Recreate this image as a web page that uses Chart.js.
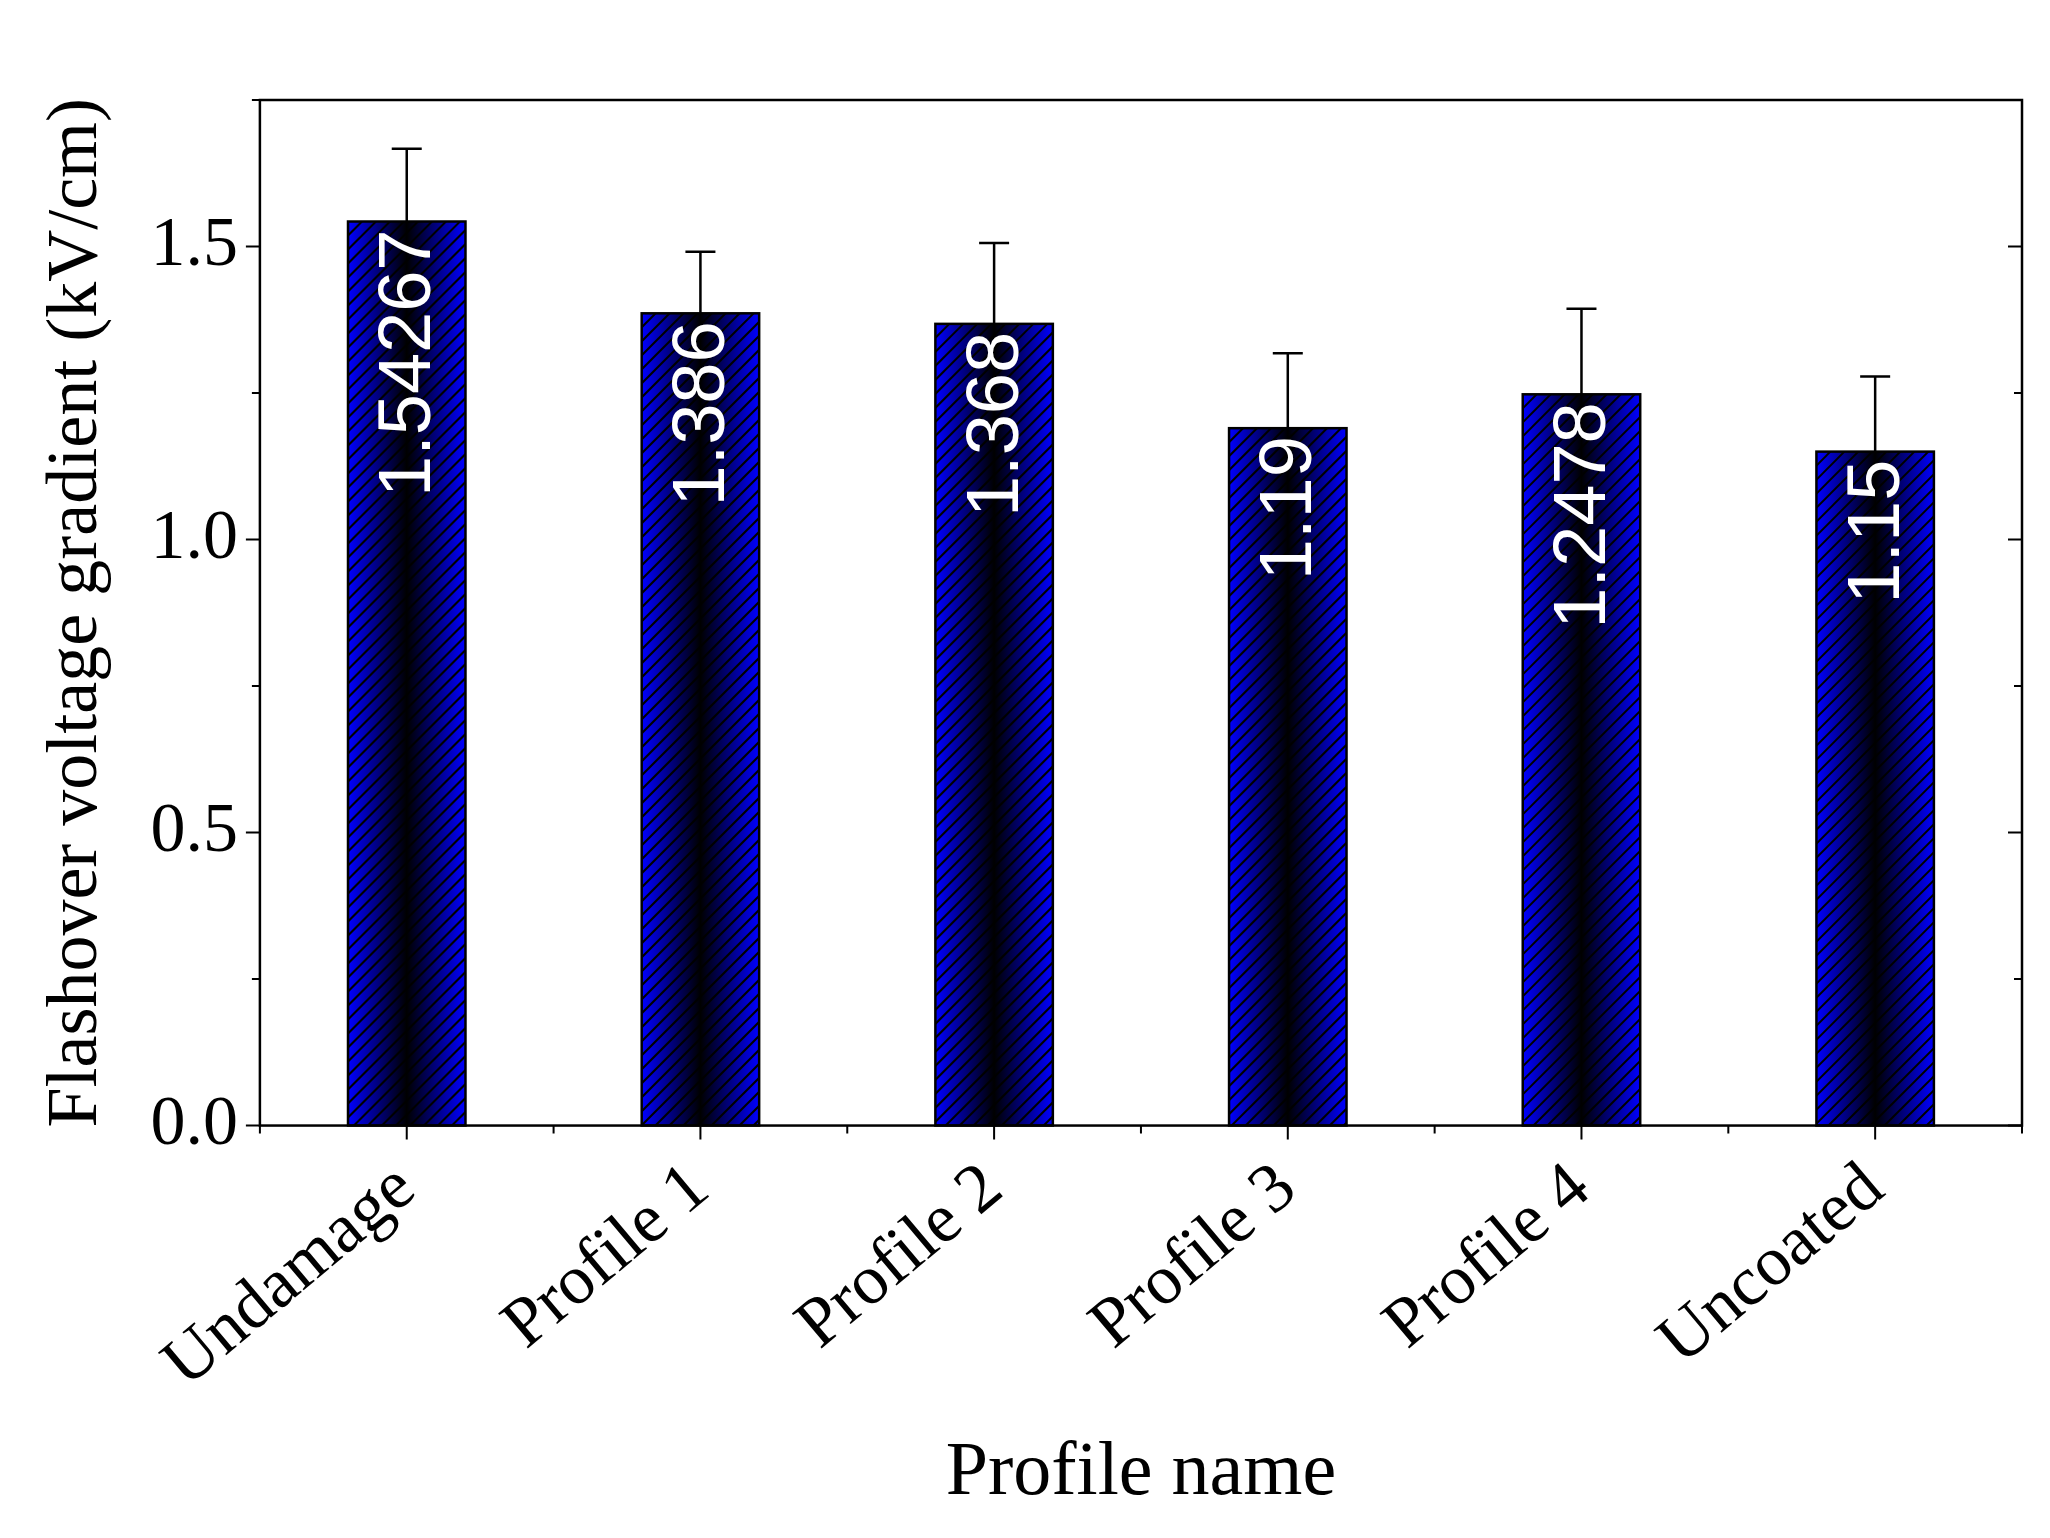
<!DOCTYPE html>
<html><head><meta charset="utf-8">
<script src="https://cdn.jsdelivr.net/npm/chart.js@4/dist/chart.umd.min.js"></script>
<style>html,body{margin:0;padding:0;background:#fff}#w{width:2050px;height:1538px}</style>
</head><body><div id="w"><canvas id="c"></canvas></div>
<script>
const categories = ["Undamage","Profile 1","Profile 2","Profile 3","Profile 4","Uncoated"];
const values = [1.54267,1.386,1.368,1.19,1.2478,1.15];
const errors = [0.124,0.105,0.138,0.128,0.146,0.128];
const valueLabels = ["1.54267","1.386","1.368","1.19","1.2478","1.15"];
const yTicks = [0,0.5,1.0,1.5];

const SERIF = "'Liberation Serif','DejaVu Serif',serif";

const deco = {
  id:'deco',
  afterDatasetsDraw(chart){
    const ctx = chart.ctx, meta = chart.getDatasetMeta(0);
    const ys = chart.scales.y, xs = chart.scales.x, ca = chart.chartArea;
    meta.data.forEach((bar,i)=>{
      const p = bar.getProps(['x','y','base','width'],true);
      const l = p.x-p.width/2, r = p.x+p.width/2, t = p.y, b = p.base;
      ctx.save();
      ctx.beginPath(); ctx.rect(l,t,r-l,b-t); ctx.clip();
      const g = ctx.createLinearGradient(l,0,r,0);
      g.addColorStop(0,'#0000ff'); g.addColorStop(0.5,'#000000'); g.addColorStop(1,'#0000ff');
      ctx.fillStyle = g; ctx.fillRect(l,t,r-l,b-t);
      ctx.strokeStyle='#000'; ctx.lineWidth=2;
      const sp=14;
      for(let k=l-(b-t); k<r+sp; k+=sp){
        ctx.beginPath(); ctx.moveTo(k,b); ctx.lineTo(k+(b-t),t); ctx.stroke();
      }
      ctx.restore();
      ctx.save();
      ctx.strokeStyle='#000'; ctx.lineWidth=2.5;
      ctx.strokeRect(l,t,r-l,b-t);
      const et = ys.getPixelForValue(values[i]+errors[i]);
      ctx.beginPath(); ctx.moveTo(p.x,t); ctx.lineTo(p.x,et);
      ctx.moveTo(p.x-15,et); ctx.lineTo(p.x+15,et); ctx.stroke();
      ctx.translate(p.x,t+8); ctx.rotate(-Math.PI/2);
      ctx.fillStyle='#fff'; ctx.font="74px 'Liberation Sans',Arial,sans-serif";
      ctx.textAlign='right'; ctx.textBaseline='middle';
      ctx.fillText(valueLabels[i],0,3);
      ctx.restore();
    });
    ctx.save();
    ctx.strokeStyle='#000'; ctx.lineWidth=2.5;
    ctx.strokeRect(ca.left,ca.top,ca.right-ca.left,ca.bottom-ca.top);
    ctx.lineWidth=2;
    for(let v=0; v<=1.75+1e-9; v+=0.25){
      const y=ys.getPixelForValue(v); const major=Math.abs(v*2-Math.round(v*2))<1e-6;
      const L=major?14:8;
      ctx.beginPath(); ctx.moveTo(ca.left,y); ctx.lineTo(ca.left-L,y);
      ctx.moveTo(ca.right,y); ctx.lineTo(ca.right-L,y); ctx.stroke();
    }
    const step = xs.getPixelForValue(1)-xs.getPixelForValue(0);
    for(let i=0;i<categories.length;i++){
      const x=xs.getPixelForValue(i);
      ctx.beginPath(); ctx.moveTo(x,ca.bottom); ctx.lineTo(x,ca.bottom+14);
      ctx.moveTo(x-step/2,ca.bottom); ctx.lineTo(x-step/2,ca.bottom+8);
      if(i===categories.length-1){ctx.moveTo(x+step/2,ca.bottom); ctx.lineTo(x+step/2,ca.bottom+8);}
      ctx.stroke();
    }
    ctx.restore();
  }
};

new Chart(document.getElementById('c'),{
  type:'bar',
  data:{labels:categories,datasets:[{data:values,backgroundColor:'rgba(0,0,0,0)',borderWidth:0,barPercentage:0.4,categoryPercentage:1}]},
  options:{
    responsive:true,maintainAspectRatio:false,animation:false,
    layout:{padding:{left:30,right:28,top:100,bottom:14}},
    plugins:{legend:{display:false},tooltip:{enabled:false}},
    scales:{
      x:{grid:{display:false,drawTicks:false},border:{display:false},
         ticks:{color:'#000',font:{family:SERIF,size:70},minRotation:40,maxRotation:40,padding:22},
         title:{display:true,text:'Profile name',color:'#000',font:{family:SERIF,size:76},padding:{top:0}}},
      y:{min:0,max:1.75,grid:{display:false,drawTicks:false},border:{display:false},
         afterBuildTicks(s){s.ticks=yTicks.map(v=>({value:v}));},
         ticks:{color:'#000',font:{family:SERIF,size:70},padding:22,callback:v=>v.toFixed(1)},
         title:{display:true,text:'Flashover voltage gradient (kV/cm)',color:'#000',font:{family:SERIF,size:72},padding:{bottom:8}}}
    }
  },
  plugins:[deco]
});
</script></body></html>
